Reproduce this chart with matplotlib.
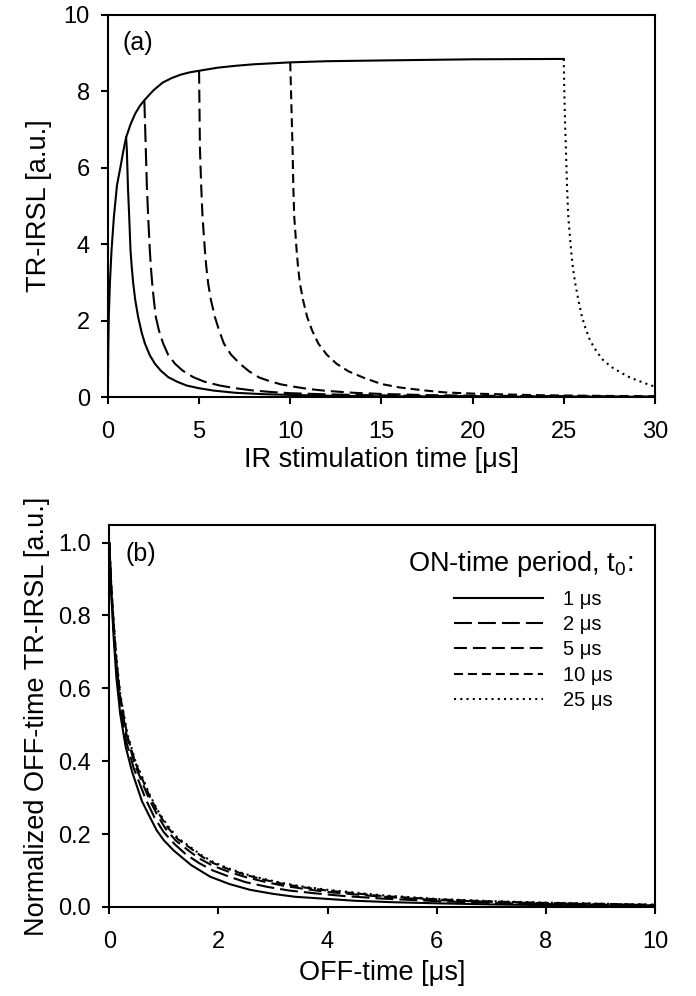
import matplotlib
matplotlib.use("Agg")
import matplotlib.pyplot as plt

plt.rcParams['font.family'] = ['Liberation Sans', 'DejaVu Sans']
plt.rcParams['mathtext.default'] = 'regular'

# (a) rise during the ON-time (common to all curves)
rise_t = [0, 0.02, 0.05, 0.11, 0.2, 0.33, 0.5, 0.7, 0.85, 1.0, 1.25, 1.5, 1.75, 2.0, 2.5, 3.0, 3.5,
          4.0, 4.5, 5.0, 6.0, 7.0, 8.0, 10.0, 12.0, 15.0, 20.0, 25.0]
rise_y = [0, 1.2, 2.1, 2.98, 3.85, 4.72, 5.55, 6.05, 6.45, 6.8, 7.15, 7.42, 7.62, 7.77, 8.03, 8.23, 8.35,
          8.44, 8.5, 8.54, 8.62, 8.67, 8.71, 8.76, 8.79, 8.81, 8.84, 8.85]

# (a) OFF-time decay after each ON-time period
off1_t = [1.0, 1.04, 1.1, 1.17, 1.24, 1.31, 1.39, 1.5, 1.66, 1.85, 2.03, 2.3, 2.58, 2.9, 3.31, 3.8,
          4.32, 5.0, 5.77, 7.0, 8.5, 10.0, 12.0, 15.0, 20.0, 30.0]
off1_y = [6.8, 6.47, 5.5, 4.72, 3.85, 3.4, 2.98, 2.55, 2.10, 1.7, 1.41, 1.1, 0.88, 0.7, 0.53, 0.41,
          0.31, 0.24, 0.18, 0.12, 0.085, 0.065, 0.045, 0.03, 0.02, 0.01]

off2_t = [2.0, 2.08, 2.14, 2.21, 2.30, 2.36, 2.43, 2.52, 2.63, 2.8, 3.03, 3.3, 3.68, 4.1, 4.68, 5.3,
          6.14, 7.0, 7.97, 9.0, 10.0, 12.0, 14.0, 17.0, 20.0, 25.0, 30.0]
off2_y = [7.77, 6.47, 5.5, 4.72, 3.85, 3.4, 2.98, 2.55, 2.10, 1.75, 1.41, 1.12, 0.88, 0.7, 0.53, 0.41,
          0.31, 0.24, 0.18, 0.14, 0.11, 0.08, 0.06, 0.04, 0.03, 0.02, 0.015]

off5_t = [5.0, 5.05, 5.12, 5.19, 5.32, 5.4, 5.50, 5.65, 5.87, 6.1, 6.36, 6.75, 7.24, 7.75, 8.3, 8.9,
          9.5, 10.2, 11.0, 12.0, 13.5, 15.0, 17.5, 20.0, 25.0, 30.0]
off5_y = [8.54, 6.47, 5.5, 4.72, 3.85, 3.4, 2.98, 2.55, 2.10, 1.75, 1.41, 1.12, 0.88, 0.68, 0.52, 0.42,
          0.34, 0.28, 0.22, 0.17, 0.12, 0.09, 0.06, 0.045, 0.03, 0.02]

off10_t = [10.0, 10.13, 10.17, 10.22, 10.35, 10.43, 10.53, 10.7, 10.93, 11.2, 11.54, 12.0, 12.54,
           13.2, 14.0, 15.0, 16.0, 17.2, 18.5, 20.0, 22.0, 24.0, 27.0, 30.0]
off10_y = [8.76, 6.47, 5.5, 4.72, 3.85, 3.4, 2.98, 2.55, 2.10, 1.75, 1.41, 1.12, 0.88,
           0.68, 0.52, 0.35, 0.26, 0.19, 0.13, 0.1, 0.075, 0.055, 0.04, 0.03]

off25_t = [25.0, 25.03, 25.07, 25.12, 25.18, 25.25, 25.4, 25.5, 25.63, 25.8, 26.0, 26.2, 26.44, 26.8,
           27.17, 27.6, 28.09, 28.5, 29.0, 29.4, 29.8, 30.0]
off25_y = [8.85, 8.0, 7.2, 6.47, 5.5, 4.72, 3.85, 3.4, 2.98, 2.55, 2.10, 1.8, 1.49, 1.2,
           0.97, 0.8, 0.66, 0.55, 0.45, 0.38, 0.31, 0.29]

# (b) normalized OFF-time curves
norm1_t = [0, 0.02, 0.04, 0.08, 0.13, 0.2, 0.3, 0.42, 0.6, 0.75, 0.87, 1.0, 1.18, 1.5, 1.85, 2.2, 2.58,
           3.0, 3.4, 4.0, 4.5, 5.2, 6.0, 7.0, 8.0, 10.0]
norm1_y = [1.0, 0.92, 0.85, 0.74, 0.63, 0.53, 0.44, 0.37, 0.29, 0.245, 0.21, 0.183, 0.155, 0.115, 0.083,
           0.063, 0.047, 0.036, 0.028, 0.022, 0.017, 0.013, 0.01, 0.007, 0.005, 0.003]

norm2_t = [0, 0.02, 0.04, 0.08, 0.13, 0.2, 0.3, 0.45, 0.67, 0.83, 1.0, 1.2, 1.4, 1.65, 1.9, 2.2, 2.5,
           2.9, 3.3, 3.8, 4.3, 5.0, 6.0, 7.0, 8.0, 10.0]
norm2_y = [1.0, 0.925, 0.86, 0.76, 0.65, 0.55, 0.46, 0.38, 0.295, 0.245, 0.205, 0.172, 0.145, 0.12, 0.10,
           0.083, 0.068, 0.055, 0.045, 0.037, 0.03, 0.023, 0.016, 0.011, 0.008, 0.004]

norm5_t = [0, 0.02, 0.04, 0.08, 0.13, 0.2, 0.32, 0.47, 0.72, 0.87, 1.03, 1.22, 1.45, 1.65, 1.9, 2.2, 2.5,
           2.85, 3.2, 3.6, 4.0, 5.0, 6.0, 7.0, 8.0, 10.0]
norm5_y = [1.0, 0.93, 0.865, 0.77, 0.67, 0.57, 0.47, 0.39, 0.30, 0.255, 0.215, 0.182, 0.155, 0.133, 0.113,
           0.096, 0.082, 0.069, 0.058, 0.049, 0.041, 0.028, 0.019, 0.014, 0.01, 0.005]

norm10_t = [0, 0.02, 0.04, 0.08, 0.13, 0.2, 0.33, 0.48, 0.75, 0.9, 1.06, 1.25, 1.5, 1.7, 1.91, 2.2, 2.5,
            2.8, 3.13, 3.5, 4.0, 5.0, 6.0, 7.0, 8.0, 10.0]
norm10_y = [1.0, 0.935, 0.87, 0.78, 0.68, 0.58, 0.47, 0.395, 0.30, 0.258, 0.22, 0.187, 0.16, 0.138, 0.12,
            0.103, 0.088, 0.076, 0.065, 0.055, 0.045, 0.03, 0.021, 0.015, 0.011, 0.006]

norm25_t = [0, 0.02, 0.04, 0.08, 0.13, 0.2, 0.33, 0.48, 0.75, 0.9, 1.06, 1.25, 1.5, 1.7, 1.91, 2.2, 2.5,
            2.8, 3.13, 3.5, 4.0, 5.0, 6.0, 7.0, 8.0, 10.0]
norm25_y = [1.0, 0.94, 0.875, 0.785, 0.685, 0.585, 0.475, 0.40, 0.305, 0.262, 0.225, 0.19, 0.163, 0.141, 0.123,
            0.105, 0.09, 0.078, 0.067, 0.057, 0.047, 0.032, 0.022, 0.016, 0.012, 0.006]

labels = ["1 μs", "2 μs", "5 μs", "10 μs", "25 μs"]
styles = ['-', (0, (8.6, 2.9)), (0, (6.2, 2.9)), (0, (4.3, 2.4)), (0, (1, 2))]

fig = plt.figure(figsize=(6.96, 9.96), dpi=100)
ax1 = fig.add_axes([0.155, 0.601, 0.786, 0.384])
ax2 = fig.add_axes([0.157, 0.0894, 0.784, 0.383])

lw = 1.5
ax1.plot(rise_t, rise_y, color='k', lw=lw, linestyle='-')
for t, y, ls in zip([off1_t, off2_t, off5_t, off10_t, off25_t],
                    [off1_y, off2_y, off5_y, off10_y, off25_y], styles):
    ax1.plot(t, y, color='k', lw=lw, linestyle=ls)

handles = []
for t, y, ls, lab in zip([norm1_t, norm2_t, norm5_t, norm10_t, norm25_t],
                         [norm1_y, norm2_y, norm5_y, norm10_y, norm25_y], styles, labels):
    h, = ax2.plot(t, y, color='k', lw=lw, linestyle=ls, label=lab)
    handles.append(h)

ax1.set_xlim(0, 30)
ax1.set_ylim(0, 10)
ax1.set_xticks(range(0, 31, 5))
ax1.set_yticks(range(0, 11, 2))
ax1.set_xlabel("IR stimulation time [μs]", fontsize=19.5, labelpad=3)
ax1.set_ylabel("TR-IRSL [a.u.]", fontsize=19.5, labelpad=8)
ax1.text(0.026, 0.927, "(a)", transform=ax1.transAxes, fontsize=18, va='center')

ax2.set_xlim(0, 10)
ax2.set_ylim(0, 1.047)
ax2.set_xticks(range(0, 11, 2))
ax2.set_yticks([0.0, 0.2, 0.4, 0.6, 0.8, 1.0])
ax2.set_yticklabels(["0.0", "0.2", "0.4", "0.6", "0.8", "1.0"])
ax2.set_xlabel("OFF-time [μs]", fontsize=19.5, labelpad=5)
ax2.set_ylabel("Normalized OFF-time TR-IRSL [a.u.]", fontsize=19.5, labelpad=6)
ax2.text(0.029, 0.924, "(b)", transform=ax2.transAxes, fontsize=18, va='center')

for ax in (ax1, ax2):
    for sp in ax.spines.values():
        sp.set_linewidth(1.5)
    ax.tick_params(direction='out', length=5, width=1.5, labelsize=17,
                   top=False, right=False)
    ax.tick_params(axis='x', pad=12)
    ax.tick_params(axis='y', pad=8)

ax2.text(0.96, 0.882, "ON-time period, t$_0$:", transform=ax2.transAxes,
         fontsize=19.5, ha='right', va='baseline')
ax2.legend(handles=handles, loc='upper left', bbox_to_anchor=(0.632, 0.832),
           frameon=False, fontsize=14.5, borderpad=0, borderaxespad=0,
           handlelength=4.4, handletextpad=1.0, labelspacing=0.32)

fig.savefig("out.png", dpi=100)
